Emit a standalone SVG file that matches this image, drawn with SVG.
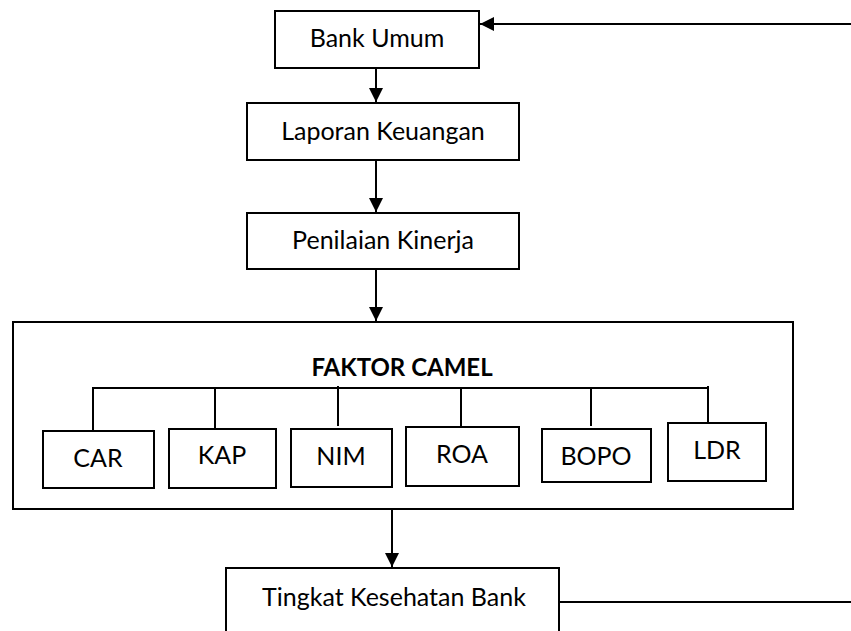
<svg xmlns="http://www.w3.org/2000/svg" width="851" height="631" viewBox="0 0 851 631">
<style>
.box{fill:#fff;stroke:#000;stroke-width:2}
.ln{fill:none;stroke:#000;stroke-width:2}
.t{font-family:Lato,"Open Sans","Liberation Sans",sans-serif;font-size:25px;fill:#000;text-anchor:middle}
.b{font-weight:bold;font-size:24px}
</style>
<defs>
<marker id="ah" markerUnits="userSpaceOnUse" markerWidth="14" markerHeight="14" refX="14" refY="7" orient="auto" viewBox="0 0 14 14">
<path d="M0,0 L14,7 L0,14 z" fill="#000"/>
</marker>
</defs>
<rect width="851" height="631" fill="#fff"/>
<g id="faktor-camel">
<rect class="box" x="13" y="322" width="780" height="187"/>
<text class="t b" x="402" y="376">FAKTOR CAMEL</text>
</g>
<g id="connectors">
<line class="ln" x1="376" y1="68" x2="376" y2="102" marker-end="url(#ah)"/>
<line class="ln" x1="376" y1="160" x2="376" y2="212" marker-end="url(#ah)"/>
<line class="ln" x1="376" y1="269" x2="376" y2="321" marker-end="url(#ah)"/>
<line class="ln" x1="392" y1="509" x2="392" y2="567" marker-end="url(#ah)"/>
<line class="ln" x1="559" y1="602" x2="851" y2="602"/>
<line class="ln" x1="851" y1="24" x2="480" y2="24" marker-end="url(#ah)"/>
<line class="ln" x1="92" y1="388" x2="709" y2="388"/>
<line class="ln" x1="93" y1="388" x2="93" y2="430"/>
<line class="ln" x1="215" y1="388" x2="215" y2="428"/>
<line class="ln" x1="338" y1="386" x2="338" y2="426"/>
<line class="ln" x1="461" y1="388" x2="461" y2="427"/>
<line class="ln" x1="591" y1="388" x2="591" y2="426"/>
<line class="ln" x1="708" y1="386" x2="708" y2="423"/>
</g>
<g id="bank-umum">
<rect class="box" x="275" y="11" width="204" height="57"/>
<text class="t" x="377" y="47">Bank Umum</text>
</g>
<g id="laporan-keuangan">
<rect class="box" x="247" y="103" width="272" height="57"/>
<text class="t" x="383" y="140">Laporan Keuangan</text>
</g>
<g id="penilaian-kinerja">
<rect class="box" x="247" y="213" width="272" height="56"/>
<text class="t" x="383" y="249">Penilaian Kinerja</text>
</g>
<g id="car">
<rect class="box" x="43" y="431" width="111" height="57"/>
<text class="t" x="98" y="467">CAR</text>
</g>
<g id="kap">
<rect class="box" x="169" y="429" width="107" height="59"/>
<text class="t" x="222" y="464">KAP</text>
</g>
<g id="nim">
<rect class="box" x="291" y="429" width="101" height="58"/>
<text class="t" x="341" y="465">NIM</text>
</g>
<g id="roa">
<rect class="box" x="406" y="427" width="113" height="59"/>
<text class="t" x="462" y="463">ROA</text>
</g>
<g id="bopo">
<rect class="box" x="542" y="429" width="109" height="53"/>
<text class="t" x="596" y="465">BOPO</text>
</g>
<g id="ldr">
<rect class="box" x="668" y="423" width="98" height="58"/>
<text class="t" x="717" y="459">LDR</text>
</g>
<g id="tingkat-kesehatan-bank">
<rect class="box" x="226" y="568" width="333" height="80"/>
<text class="t" x="394" y="606">Tingkat Kesehatan Bank</text>
</g>
</svg>
